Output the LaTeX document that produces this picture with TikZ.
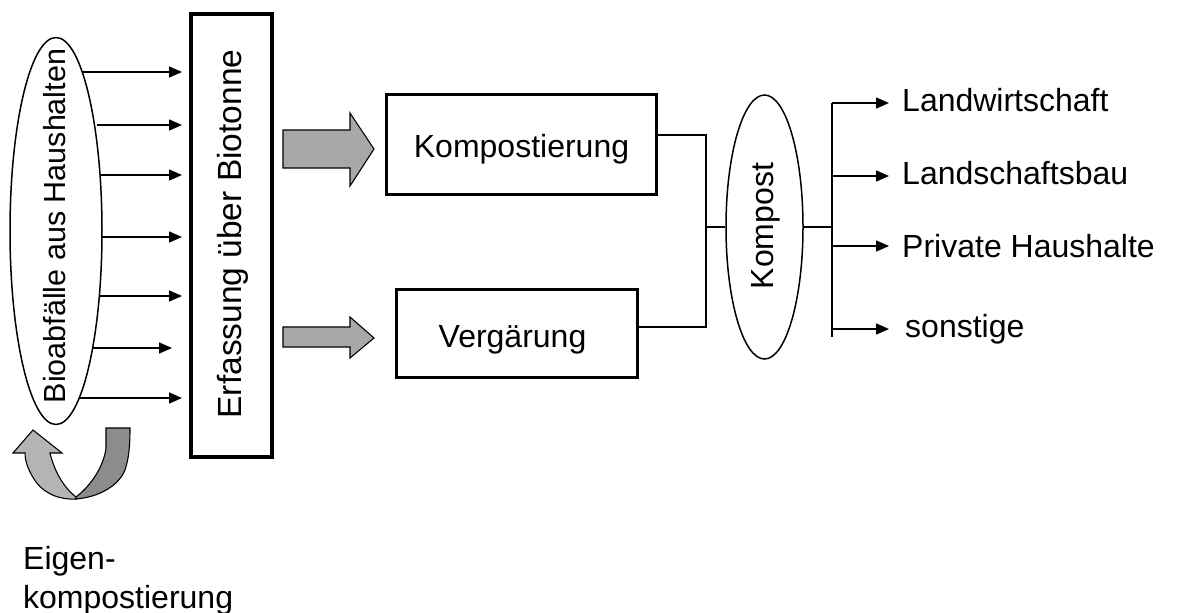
\documentclass[tikz,border=0pt]{standalone}
\usepackage{fontspec}
\setmainfont{Liberation Sans}
\usepackage{graphicx}
\usetikzlibrary{shapes.geometric,arrows.meta}
\definecolor{fatgray}{RGB}{168,168,168}
\definecolor{lightband}{RGB}{180,180,180}
\definecolor{darkband}{RGB}{140,140,140}
\begin{document}
\begin{tikzpicture}[x=1pt,y=-1pt,
  txt/.style={font=\fontsize{32}{38}\selectfont, inner sep=0pt},
  thinln/.style={line width=1.5pt},
  boxnode/.style={draw, line width=3.1pt, inner sep=0pt},
  arr/.style={line width=1.5pt, -{Triangle[length=13pt,width=11pt]}},
  fat/.style={draw, line width=1.1pt, fill=fatgray},
]
\useasboundingbox (0,0) rectangle (1186,613);

% left ellipse
\node[ellipse, draw, thinln, minimum width=92pt, minimum height=387pt, inner sep=0pt] (bio) at (56,231) {};
\node[txt, font=\fontsize{30.5}{36}\selectfont, rotate=90] (biot) at (55,226) {Bioabfälle aus Haushalten};

% collection box
\node[boxnode, minimum width=81pt, minimum height=443pt] (erf) at (231.5,235.5) {};
\node[txt, font=\fontsize{33.5}{40}\selectfont, rotate=90] (erft) at (233,234) {Erfassung über Biotonne};

% arrows from ellipse to box
\foreach \ys/\xs/\xe in {72/83/182, 125/97/182, 175/100/182, 237/102/182, 296/99/182, 348/92/172, 398/79/182}
  \draw[arr] (\xs,\ys) -- (\xe,\ys);

% processing boxes
\node[boxnode, minimum width=270pt, minimum height=100pt] (komp) at (521.5,144.5) {};
\node[txt, anchor=base] (kompt) at (521.5,157) {Kompostierung};
\node[boxnode, minimum width=241pt, minimum height=88pt] (verg) at (517,333.5) {};
\node[txt, anchor=base] (vergt) at (512.5,347) {Vergärung};

% fat arrows
\draw[fat] (283,130) -- (350,130) -- (350,113) -- (374,149) -- (350,186) -- (350,168) -- (283,168) -- cycle;
\draw[fat] (283,327) -- (350,327) -- (350,317) -- (374,338) -- (350,358) -- (350,347) -- (283,347) -- cycle;

% Kompost ellipse
\node[ellipse, draw, thinln, minimum width=77pt, minimum height=264pt, inner sep=0pt] (kp) at (764.5,227) {};
\node[txt, rotate=90] (kpt) at (766,226) {Kompost};

% connectors into Kompost
\coordinate (jl) at (706,227);
\coordinate (jr) at (832,227);
\draw[thinln] ([yshift=9.5pt]komp.east) -- (jl |- 0,135) -- (jl |- 0,327) -- ([yshift=6.5pt]verg.east);
\draw[thinln] (jl) -- (kp.west);
\draw[thinln] (kp.east) -- (jr);
\draw[thinln] (jr |- 0,103) -- (jr |- 0,337);

% outputs
\node[txt, anchor=base west] (o1) at (902,111) {Landwirtschaft};
\node[txt, anchor=base west] (o2) at (902,184) {Landschaftsbau};
\node[txt, anchor=base west] (o3) at (902,257) {Private Haushalte};
\node[txt, anchor=base west] (o4) at (905,337) {sonstige};
\draw[arr] (jr |- 0,103) -- (889,103);
\draw[arr] (jr |- 0,176) -- (889,176);
\draw[arr] (jr |- 0,246) -- (889,246);
\draw[arr] (jr |- 0,329) -- (889,329);

% Eigenkompostierung curved arrow
\draw[line width=1.1pt, fill=darkband] (76,499) .. controls (100,497) and (119,485) .. (125,470)
  .. controls (129,458) and (130,445) .. (130,428) -- (106,428) -- (106,448)
  .. controls (104,465) and (92,485) .. (76,497) -- cycle;
\draw[line width=1.1pt, fill=lightband] (76,499) .. controls (60,500) and (45,494) .. (36,482)
  .. controls (29,472) and (25,462) .. (25,453) -- (13,453) -- (33,430) -- (62,453) -- (50,453)
  .. controls (54,470) and (63,487) .. (76,497) -- cycle;

\node[txt, anchor=base west] (eig) at (23,569) {Eigen-};
\node[txt, anchor=base west] (eig2) at (23,608) {kompostierung};
\end{tikzpicture}
\end{document}
